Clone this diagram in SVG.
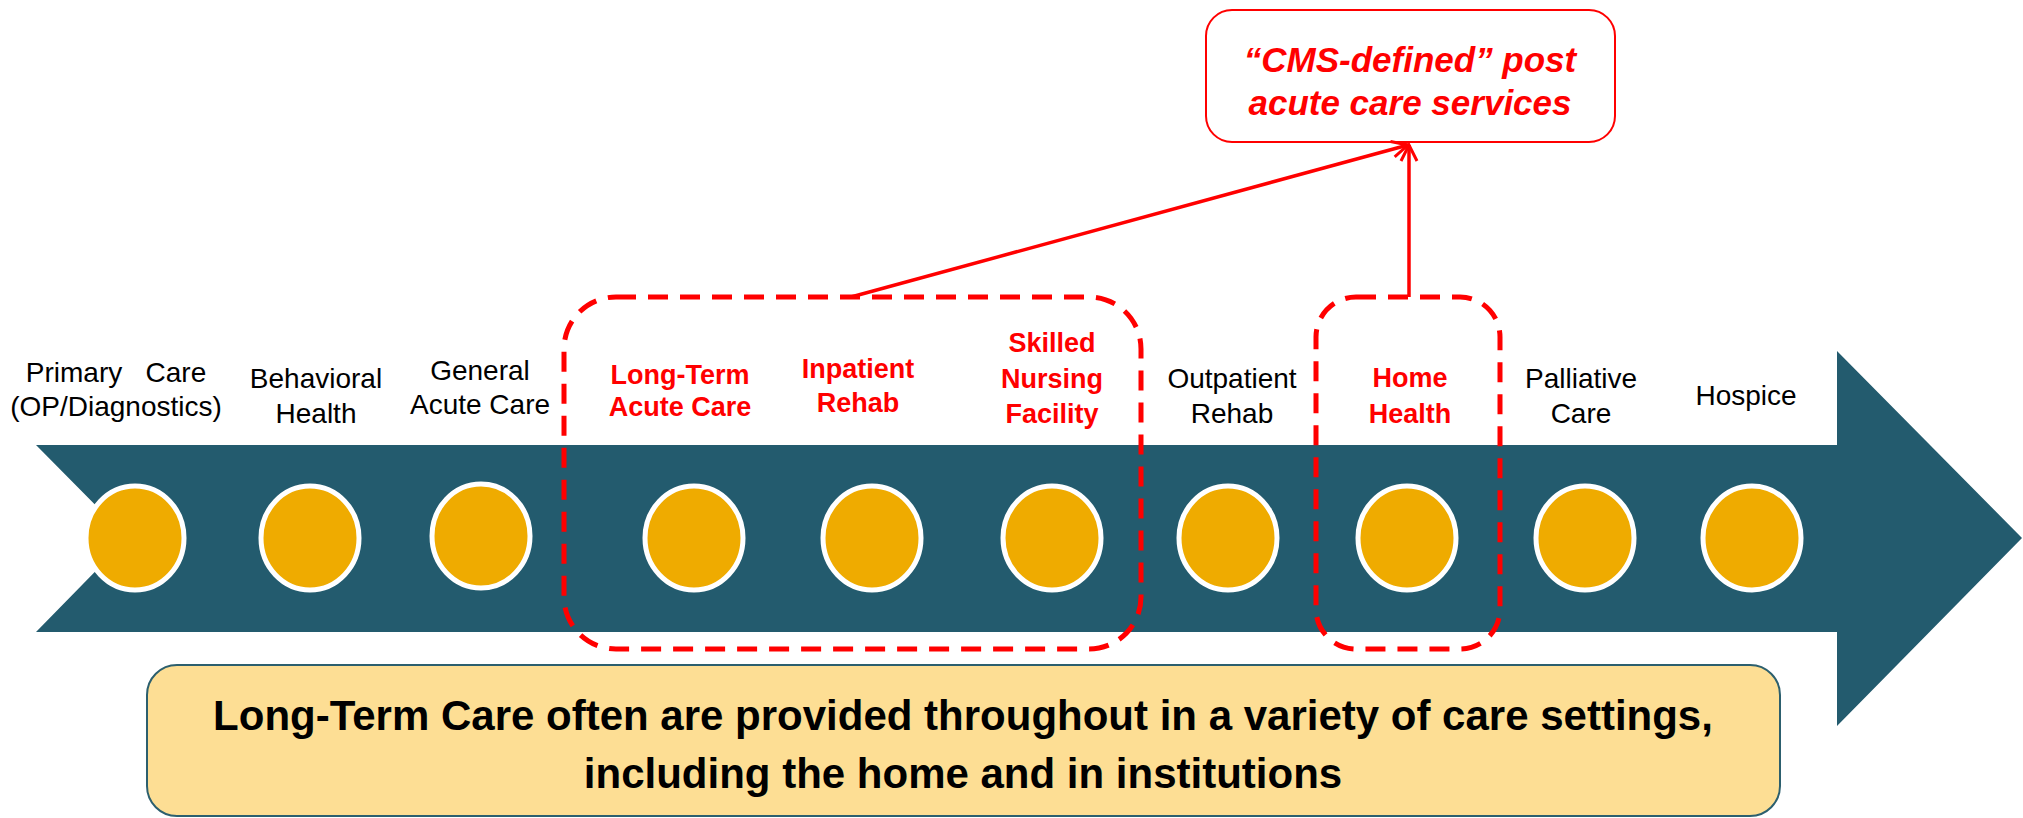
<svg xmlns="http://www.w3.org/2000/svg" width="2023" height="818" viewBox="0 0 2023 818">
<defs>
<style>
.lbl{font-family:"Liberation Sans",Arial,sans-serif;font-size:28px;fill:#000;text-anchor:middle;white-space:pre}
.red{font-family:"Liberation Sans",Arial,sans-serif;font-size:27px;font-weight:bold;fill:#FF0000;text-anchor:middle}
.dot{fill:#EFAB00;stroke:#FFFFFF;stroke-width:5}
.dash{fill:none;stroke:#FF0000;stroke-width:5;stroke-dasharray:20 12}
.conn{fill:none;stroke:#FF0000;stroke-width:3.5}
</style>
<marker id="open" viewBox="0 0 20 20" refX="18" refY="10" markerWidth="20" markerHeight="20" markerUnits="userSpaceOnUse" orient="auto">
<polyline points="2,2 18,10 2,18" fill="none" stroke="#FF0000" stroke-width="3"/>
</marker>
</defs>
<rect width="2023" height="818" fill="#FFFFFF"/>
<g id="timeline">
<polygon points="36,445 1837,445 1837,351 2022,538 1837,726 1837,632 36,632 128,538" fill="#235B6E"/>
</g>
<g id="summary">
<rect x="147" y="665" width="1633" height="151" rx="30" fill="#FDDE94" stroke="#2C5F6E" stroke-width="2"/>
<text x="963" y="730" font-family="'Liberation Sans',Arial,sans-serif" font-size="42" font-weight="bold" text-anchor="middle" fill="#000">Long-Term Care often are provided throughout in a variety of care settings,</text>
<text x="963" y="788" font-family="'Liberation Sans',Arial,sans-serif" font-size="42" font-weight="bold" text-anchor="middle" fill="#000">including the home and in institutions</text>
</g>
<g id="n-primary"><ellipse class="dot" cx="135" cy="538" rx="49" ry="52"/><text class="lbl" x="116" y="382" xml:space="preserve">Primary   Care</text><text class="lbl" x="116" y="416">(OP/Diagnostics)</text></g>
<g id="n-behavioral"><ellipse class="dot" cx="310" cy="538" rx="49" ry="52"/><text class="lbl" x="316" y="388">Behavioral</text><text class="lbl" x="316" y="423">Health</text></g>
<g id="n-general"><ellipse class="dot" cx="481" cy="536" rx="49" ry="52"/><text class="lbl" x="480" y="380">General</text><text class="lbl" x="480" y="414">Acute Care</text></g>
<g id="n-ltac"><ellipse class="dot" cx="694" cy="538" rx="49" ry="52"/><text class="red" x="680" y="384">Long-Term</text><text class="red" x="680" y="416">Acute Care</text></g>
<g id="n-irf"><ellipse class="dot" cx="872" cy="538" rx="49" ry="52"/><text class="red" x="858" y="378">Inpatient</text><text class="red" x="858" y="412">Rehab</text></g>
<g id="n-snf"><ellipse class="dot" cx="1052" cy="538" rx="49" ry="52"/><text class="red" x="1052" y="352">Skilled</text><text class="red" x="1052" y="388">Nursing</text><text class="red" x="1052" y="423">Facility</text></g>
<g id="n-outpatient"><ellipse class="dot" cx="1228" cy="538" rx="49" ry="52"/><text class="lbl" x="1232" y="388">Outpatient</text><text class="lbl" x="1232" y="423">Rehab</text></g>
<g id="n-home"><ellipse class="dot" cx="1407" cy="538" rx="49" ry="52"/><text class="red" x="1410" y="387">Home</text><text class="red" x="1410" y="423">Health</text></g>
<g id="n-palliative"><ellipse class="dot" cx="1585" cy="538" rx="49" ry="52"/><text class="lbl" x="1581" y="388">Palliative</text><text class="lbl" x="1581" y="423">Care</text></g>
<g id="n-hospice"><ellipse class="dot" cx="1752" cy="538" rx="49" ry="52"/><text class="lbl" x="1746" y="405">Hospice</text></g>
<g id="group-pac"><rect class="dash" x="564" y="297" width="577" height="352" rx="52"/></g>
<g id="group-home"><rect class="dash" x="1316" y="297" width="184" height="352" rx="40"/></g>
<g id="cms">
<rect x="1206" y="10" width="409" height="132" rx="26" fill="#FFFFFF" stroke="#FF0000" stroke-width="2"/>
<text x="1410" y="72" font-family="'Liberation Sans',Arial,sans-serif" font-size="35" font-weight="bold" font-style="italic" text-anchor="middle" fill="#FF0000">“CMS-defined” post</text>
<text x="1410" y="115" font-family="'Liberation Sans',Arial,sans-serif" font-size="35" font-weight="bold" font-style="italic" text-anchor="middle" fill="#FF0000">acute care services</text>
</g>
<g id="connectors">
<line class="conn" x1="851" y1="297" x2="1408" y2="145" marker-end="url(#open)"/>
<line class="conn" x1="1409" y1="297" x2="1409" y2="145" marker-end="url(#open)"/>
</g>
</svg>
